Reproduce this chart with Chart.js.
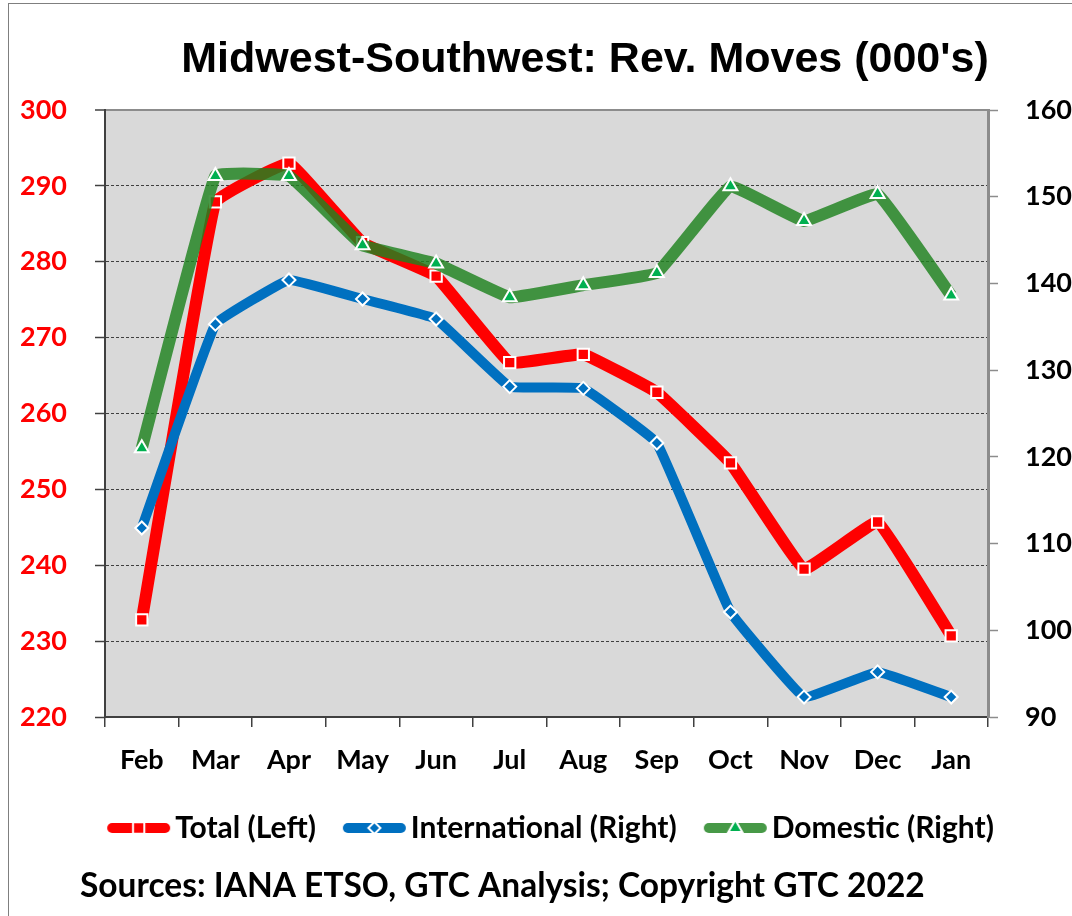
<!DOCTYPE html>
<html>
<head>
<meta charset="utf-8">
<title>Midwest-Southwest: Rev. Moves (000's)</title>
<script src="https://cdn.jsdelivr.net/npm/chart.js@4.4.1/dist/chart.umd.min.js"></script>
<style>
  html, body { margin: 0; padding: 0; overflow: hidden; background: #fff; }
  .frame { position: absolute; left: 8px; top: 3px; width: 1200px; height: 1000px; border: 1px solid #7f7f7f; }
  .chart-box { position: absolute; left: 0; top: 0; width: 1090px; height: 916px; }
</style>
</head>
<body>
<div class="frame"></div>
<div class="chart-box"><canvas id="movesChart"></canvas></div>
<script>
// values (000's of moves)
const months = ['Feb', 'Mar', 'Apr', 'May', 'Jun', 'Jul', 'Aug', 'Sep', 'Oct', 'Nov', 'Dec', 'Jan'];
const totalLeft = [232.8, 287.9, 293.0, 282.5, 278.1, 266.7, 267.8, 262.8, 253.5, 239.5, 245.7, 230.7];
const internationalRight = [111.8, 135.3, 140.4, 138.2, 135.9, 128.1, 127.9, 121.6, 102.1, 92.3, 95.2, 92.3];
const domesticRight = [121.0, 152.4, 152.4, 144.4, 142.3, 138.4, 139.8, 141.2, 151.2, 147.2, 150.3, 138.6];
const leftTicks = [220, 230, 240, 250, 260, 270, 280, 290, 300];
const rightTicks = [90, 100, 110, 120, 130, 140, 150, 160];
const seriesNames = ['Total (Left)', 'International (Right)', 'Domestic (Right)'];
const titleText = "Midwest-Southwest: Rev. Moves (000's)";
const sourceText = 'Sources: IANA ETSO, GTC Analysis; Copyright GTC 2022';

const RED = '#ff0000';
const BLUE = '#0070c0';
const GREEN_LINE = 'rgba(30, 130, 30, 0.82)';
const GREEN_MARK = '#00b050';
const labelFont = { family: 'Lato', weight: 'bold', size: 27 };

// little line + marker picture used as legend symbol
function legendSwatch(lineColor, markColor, pointStyle, radius) {
    const c = document.createElement('canvas');
    c.width = 86;
    c.height = 22;
    const g = c.getContext('2d');
    g.lineCap = 'round';
    g.strokeStyle = lineColor;
    g.lineWidth = 10;
    g.beginPath();
    g.moveTo(27, 11);
    g.lineTo(80, 11);
    g.stroke();
    g.fillStyle = markColor;
    g.strokeStyle = '#ffffff';
    g.lineWidth = 2;
    Chart.helpers.drawPoint(g, { pointStyle: pointStyle, radius: radius, rotation: 0, borderWidth: 2 }, 53.5, 11);
    return c;
}

const plotBackground = {
    id: 'plotBackground',
    beforeDraw(chart) {
        const { ctx, chartArea } = chart;
        ctx.save();
        ctx.fillStyle = '#d9d9d9';
        ctx.fillRect(chartArea.left, chartArea.top, chartArea.right - chartArea.left, chartArea.bottom - chartArea.top);
        ctx.restore();
    }
};

// title and source line
const chartTexts = {
    id: 'chartTexts',
    afterDraw(chart) {
        const ctx = chart.ctx;
        ctx.save();
        ctx.fillStyle = '#000';
        ctx.textBaseline = 'alphabetic';
        ctx.textAlign = 'center';
        ctx.font = 'bold 43px "Liberation Sans", Arial, sans-serif';
        ctx.fillText(titleText, 585, 72);
        ctx.textAlign = 'left';
        ctx.font = 'bold 33.5px Lato, sans-serif';
        ctx.fillText(sourceText, 80, 897);
        ctx.restore();
    }
};

function buildChart() {
    const swatches = [
        legendSwatch(RED, RED, 'rect', 8),
        legendSwatch(BLUE, BLUE, 'rectRot', 6),
        legendSwatch(GREEN_LINE, GREEN_MARK, 'triangle', 8)
    ];

    const ctx = document.getElementById('movesChart').getContext('2d');
    new Chart(ctx, {
        type: 'line',
        data: {
            labels: months,
            datasets: [
                {
                    label: seriesNames[0],
                    data: totalLeft,
                    yAxisID: 'yLeft',
                    order: 3,
                    borderColor: RED,
                    borderWidth: 12,
                    pointStyle: 'rect',
                    pointRadius: 8,
                    pointBackgroundColor: RED,
                    pointBorderColor: '#ffffff',
                    pointBorderWidth: 2
                },
                {
                    label: seriesNames[1],
                    data: internationalRight,
                    yAxisID: 'yRight',
                    order: 1,
                    borderColor: BLUE,
                    borderWidth: 10,
                    pointStyle: 'rectRot',
                    pointRadius: 6.5,
                    pointBackgroundColor: BLUE,
                    pointBorderColor: '#ffffff',
                    pointBorderWidth: 2
                },
                {
                    label: seriesNames[2],
                    data: domesticRight,
                    yAxisID: 'yRight',
                    order: 2,
                    borderColor: GREEN_LINE,
                    borderWidth: 12,
                    pointStyle: 'triangle',
                    pointRadius: 8,
                    pointBackgroundColor: GREEN_MARK,
                    pointBorderColor: '#ffffff',
                    pointBorderWidth: 2
                }
            ]
        },
        options: {
            responsive: true,
            maintainAspectRatio: false,
            animation: false,
            elements: { line: { tension: 0.07 } },
            layout: { padding: { top: 110, bottom: 63, left: 0, right: 0 } },
            plugins: {
                tooltip: { enabled: false },
                legend: {
                    position: 'bottom',
                    labels: {
                        usePointStyle: true,
                        pointStyleWidth: 64,
                        padding: 16,
                        color: '#000',
                        font: { family: 'Lato', weight: 'bold', size: 30 },
                        sort: (a, b) => a.datasetIndex - b.datasetIndex,
                        generateLabels: (chart) => {
                            const items = Chart.defaults.plugins.legend.labels.generateLabels(chart);
                            items.forEach(it => { it.pointStyle = swatches[it.datasetIndex]; });
                            return items;
                        }
                    }
                }
            },
            scales: {
                x: {
                    offset: true,
                    grid: { offset: true, drawOnChartArea: false, tickLength: 10, color: '#404040', lineWidth: 1.5 },
                    border: { color: '#404040', width: 2 },
                    ticks: { color: '#000', font: labelFont, padding: 17, maxRotation: 0, autoSkip: false },
                    afterFit: (s) => { s.height = 80; }
                },
                yLeft: {
                    position: 'left',
                    min: leftTicks[0],
                    max: leftTicks[leftTicks.length - 1],
                    afterBuildTicks: (s) => { s.ticks = leftTicks.map(v => ({ value: v })); },
                    ticks: { color: RED, font: labelFont, padding: 28, crossAlign: 'near' },
                    grid: {
                        color: (c) => c.tick && c.tick.value === leftTicks[leftTicks.length - 1] ? '#8c8c8c' : '#404040',
                        lineWidth: (c) => c.tick && c.tick.value === leftTicks[leftTicks.length - 1] ? 2 : 1,
                        tickColor: '#404040',
                        tickWidth: 1.5,
                        tickLength: 10
                    },
                    border: {
                        color: '#404040',
                        width: 2,
                        dash: (c) => c.tick && c.tick.value === leftTicks[leftTicks.length - 1] ? [] : [3, 2]
                    },
                    afterFit: (s) => { s.width = 105; }
                },
                yRight: {
                    position: 'right',
                    min: rightTicks[0],
                    max: rightTicks[rightTicks.length - 1],
                    afterBuildTicks: (s) => { s.ticks = rightTicks.map(v => ({ value: v })); },
                    ticks: { color: '#000', font: labelFont, padding: 27 },
                    grid: { drawOnChartArea: false, tickLength: 10, color: '#8c8c8c', tickWidth: 1.5 },
                    border: { color: '#8c8c8c', width: 3 },
                    afterFit: (s) => { s.width = 102; }
                }
            }
        },
        plugins: [plotBackground, chartTexts]
    });
}

Promise.all([
    document.fonts.load('bold 27px Lato'),
    document.fonts.load('bold 43px "Liberation Sans"')
]).then(buildChart, buildChart);
</script>
</body>
</html>
